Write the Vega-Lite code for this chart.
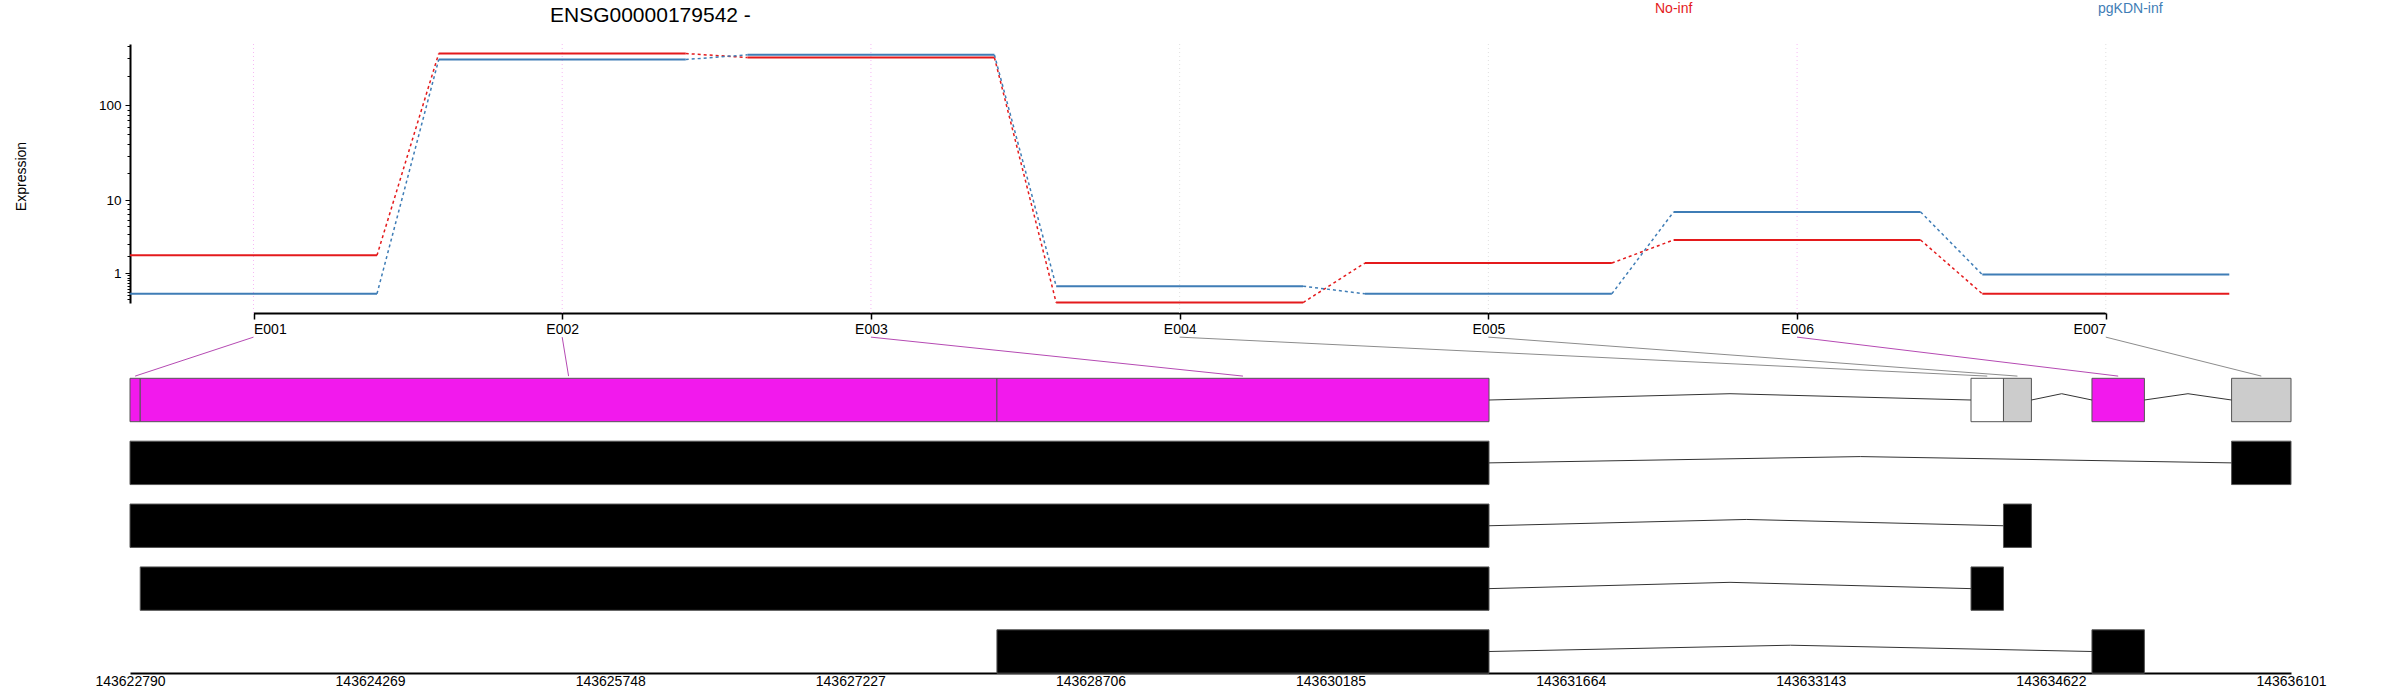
{
  "$schema": "https://vega.github.io/schema/vega-lite/v6.json",
  "width": 2161,
  "height": 629,
  "autosize": {"type": "none"},
  "padding": {"left": 130, "top": 44, "right": 109, "bottom": 27},
  "background": "white",
  "config": {
    "view": {"stroke": null},
    "font": "Liberation Sans",
    "axis": {"labelFont": "Liberation Sans", "titleFont": "Liberation Sans", "labelColor": "black", "titleColor": "black", "domainColor": "black", "tickColor": "black", "grid": false}
  },
  "title": {"text": "ENSG00000179542 -", "anchor": "start", "frame": "group", "dx": 420, "dy": 40, "offset": 16, "fontSize": 21, "fontWeight": "normal", "font": "Liberation Sans", "color": "black"},
  "datasets": {
    "expr": [
      {"exon": "E001", "idx": 1, "cond": "No-inf", "value": 2.04},
      {"exon": "E002", "idx": 2, "cond": "No-inf", "value": 336},
      {"exon": "E003", "idx": 3, "cond": "No-inf", "value": 306},
      {"exon": "E004", "idx": 4, "cond": "No-inf", "value": 0.01},
      {"exon": "E005", "idx": 5, "cond": "No-inf", "value": 1.54},
      {"exon": "E006", "idx": 6, "cond": "No-inf", "value": 3.35},
      {"exon": "E007", "idx": 7, "cond": "No-inf", "value": 0.24},
      {"exon": "E001", "idx": 1, "cond": "pgKDN-inf", "value": 0.24},
      {"exon": "E002", "idx": 2, "cond": "pgKDN-inf", "value": 292},
      {"exon": "E003", "idx": 3, "cond": "pgKDN-inf", "value": 326},
      {"exon": "E004", "idx": 4, "cond": "pgKDN-inf", "value": 0.48},
      {"exon": "E005", "idx": 5, "cond": "pgKDN-inf", "value": 0.24},
      {"exon": "E006", "idx": 6, "cond": "pgKDN-inf", "value": 7.37},
      {"exon": "E007", "idx": 7, "cond": "pgKDN-inf", "value": 0.94}
    ],
    "bins": [
      {"exon": "E001", "idx": 1, "start": 143622790, "end": 143622853, "status": "sig"},
      {"exon": "E002", "idx": 2, "start": 143622853, "end": 143628130, "status": "sig"},
      {"exon": "E003", "idx": 3, "start": 143628130, "end": 143631161, "status": "sig"},
      {"exon": "E004", "idx": 4, "start": 143634130, "end": 143634330, "status": "na"},
      {"exon": "E005", "idx": 5, "start": 143634330, "end": 143634502, "status": "ns"},
      {"exon": "E006", "idx": 6, "start": 143634875, "end": 143635198, "status": "sig"},
      {"exon": "E007", "idx": 7, "start": 143635735, "end": 143636101, "status": "ns"}
    ],
    "tx": [
      {"row": 2, "start": 143622790, "end": 143631161},
      {"row": 2, "start": 143635735, "end": 143636101},
      {"row": 3, "start": 143622790, "end": 143631161},
      {"row": 3, "start": 143634330, "end": 143634502},
      {"row": 4, "start": 143622853, "end": 143631161},
      {"row": 4, "start": 143634130, "end": 143634330},
      {"row": 5, "start": 143628130, "end": 143631161},
      {"row": 5, "start": 143634875, "end": 143635198}
    ],
    "introns": [
      {"id": "b1", "pt": 0, "g": 143631161, "y": 1},
      {"id": "b1", "pt": 1, "g": 143632645.5, "y": 0.9},
      {"id": "b1", "pt": 2, "g": 143634130, "y": 1},
      {"id": "b2", "pt": 0, "g": 143634502, "y": 1},
      {"id": "b2", "pt": 1, "g": 143634688.5, "y": 0.9},
      {"id": "b2", "pt": 2, "g": 143634875, "y": 1},
      {"id": "b3", "pt": 0, "g": 143635198, "y": 1},
      {"id": "b3", "pt": 1, "g": 143635466.5, "y": 0.9},
      {"id": "b3", "pt": 2, "g": 143635735, "y": 1},
      {"id": "t1", "pt": 0, "g": 143631161, "y": 2},
      {"id": "t1", "pt": 1, "g": 143633448, "y": 1.9},
      {"id": "t1", "pt": 2, "g": 143635735, "y": 2},
      {"id": "t2", "pt": 0, "g": 143631161, "y": 3},
      {"id": "t2", "pt": 1, "g": 143632745.5, "y": 2.9},
      {"id": "t2", "pt": 2, "g": 143634330, "y": 3},
      {"id": "t3", "pt": 0, "g": 143631161, "y": 4},
      {"id": "t3", "pt": 1, "g": 143632645.5, "y": 3.9},
      {"id": "t3", "pt": 2, "g": 143634130, "y": 4},
      {"id": "t4", "pt": 0, "g": 143631161, "y": 5},
      {"id": "t4", "pt": 1, "g": 143633018, "y": 4.9},
      {"id": "t4", "pt": 2, "g": 143634875, "y": 5}
    ]
  },
  "layer": [
    {
      "layer": [
        {
          "data": {"name": "bins"},
          "mark": {"type": "rule", "strokeDash": [1, 3], "strokeWidth": 1},
          "encoding": {
            "x": {"field": "idx", "type": "quantitative", "title": null, "axis": null},
            "y": {"datum": 420, "type": "quantitative", "title": null,
                  "axis": {"orient": "left", "values": [0.1, 0.2, 0.3, 0.4, 0.5, 0.6, 0.7, 0.8, 0.9, 2, 3, 4, 5, 6, 7, 8, 9, 20, 30, 40, 50, 60, 70, 80, 90, 200, 300, 400], "tickSize": 3, "labels": false, "domain": false, "title": null, "grid": false}},
            "y2": {"datum": -0.27},
            "stroke": {"condition": {"test": "datum.status === 'sig'", "value": "#F6B9F4"}, "value": "#E0E0E0"}
          }
        },
        {
          "data": {"name": "expr"},
          "transform": [
            {"calculate": "datum.idx - 0.4", "as": "x0"},
            {"calculate": "datum.idx + 0.4", "as": "x1"}
          ],
          "mark": {"type": "rule", "strokeWidth": 2},
          "encoding": {
            "x": {"field": "x0", "type": "quantitative", "title": null,
                  "scale": {"domain": [1, 7], "range": [123.5, 1975.8], "nice": false, "zero": false},
                  "axis": {"orient": "bottom", "offset": -360, "values": [1, 2, 3, 4, 5, 6, 7], "labelExpr": "'E00' + datum.value", "tickSize": 6, "tickWidth": 1.5, "labelPadding": 3, "labelFontSize": 14, "domainWidth": 2, "title": null, "grid": false}},
            "x2": {"field": "x1"},
            "y": {"field": "value", "type": "quantitative", "title": null,
                  "scale": {"type": "symlog", "constant": 1, "domain": [0, 420], "range": [259, 0], "nice": false, "zero": false},
                  "axis": {"orient": "left", "values": [1, 10, 100], "tickSize": 5, "labelPadding": 4, "labelFontSize": 13.5, "domainWidth": 2, "title": "Expression", "titleX": -109, "titleY": 132, "titleAngle": -90, "titleAlign": "center", "titleBaseline": "middle", "titleFontSize": 14, "titleFontWeight": "normal", "grid": false}},
            "color": {"field": "cond", "type": "nominal",
                      "scale": {"domain": ["No-inf", "pgKDN-inf"], "range": ["#E41A1C", "#3F7DB6"]},
                      "legend": {"orient": "none", "legendX": 1511, "legendY": -42, "direction": "horizontal", "title": null, "symbolSize": 0, "symbolStrokeWidth": 0, "symbolOpacity": 0, "labelOffset": 0, "labelFontSize": 14, "labelFont": "Liberation Sans", "columnPadding": 391, "padding": 0,
                                 "encode": {"labels": {"update": {"fill": {"signal": "datum.value === 'No-inf' ? '#E41A1C' : '#3F7DB6'"}}}}}}
          }
        },
        {
          "data": {"name": "expr"},
          "transform": [
            {"window": [{"op": "lead", "field": "value", "as": "next"}], "groupby": ["cond"], "sort": [{"field": "idx"}]},
            {"filter": "datum.next != null"},
            {"calculate": "datum.idx + 0.4", "as": "xa"},
            {"calculate": "datum.idx + 0.6", "as": "xb"}
          ],
          "mark": {"type": "rule", "strokeWidth": 1.5, "strokeDash": [3, 3]},
          "encoding": {
            "x": {"field": "xa", "type": "quantitative", "title": null, "axis": null},
            "x2": {"field": "xb"},
            "y": {"field": "value", "type": "quantitative", "title": null, "axis": null},
            "y2": {"field": "next"},
            "color": {"field": "cond", "type": "nominal"}
          }
        }
      ],
      "resolve": {"axis": {"x": "independent", "y": "independent"}}
    },
    {
      "layer": [
        {
          "data": {"name": "bins"},
          "transform": [
            {"calculate": "143622790 + (datum.idx - 0.6) * 13311 / 7", "as": "glab"},
            {"calculate": "(datum.start + datum.end) / 2", "as": "gmid"}
          ],
          "mark": {"type": "rule", "strokeWidth": 1},
          "encoding": {
            "x": {"field": "glab", "type": "quantitative", "title": null,
                  "scale": {"domain": [143622790, 143636101], "nice": false, "zero": false},
                  "axis": {"orient": "bottom", "values": [143622790, 143624269, 143625748, 143627227, 143628706, 143630185, 143631664, 143633143, 143634622, 143636101], "format": "d", "tickSize": 0, "labelPadding": 1, "labelFontSize": 14, "domainWidth": 2, "title": null, "grid": false, "labelOverlap": false, "labelFlush": false}},
            "x2": {"field": "gmid"},
            "y": {"datum": 0, "type": "quantitative", "title": null,
                  "scale": {"domain": [1, 5], "range": [356, 607.5], "nice": false, "zero": false},
                  "axis": null},
            "y2": {"datum": 0.62},
            "stroke": {"condition": {"test": "datum.status === 'sig'", "value": "#B54AB3"}, "value": "#8C8C8C"}
          }
        },
        {
          "data": {"name": "bins"},
          "mark": {"type": "rect", "stroke": "#555555", "strokeWidth": 1},
          "encoding": {
            "x": {"field": "start", "type": "quantitative", "title": null},
            "x2": {"field": "end"},
            "y": {"datum": 0.655, "type": "quantitative", "title": null, "axis": null},
            "y2": {"datum": 1.345},
            "fill": {"condition": [{"test": "datum.status === 'sig'", "value": "#F219ED"}, {"test": "datum.status === 'ns'", "value": "#CCCCCC"}], "value": "#FFFFFF"}
          }
        },
        {
          "data": {"name": "tx"},
          "transform": [
            {"calculate": "datum.row - 0.345", "as": "ya"},
            {"calculate": "datum.row + 0.345", "as": "yb"}
          ],
          "mark": {"type": "rect", "fill": "black", "stroke": "#555555", "strokeWidth": 1},
          "encoding": {
            "x": {"field": "start", "type": "quantitative", "title": null},
            "x2": {"field": "end"},
            "y": {"field": "ya", "type": "quantitative", "title": null, "axis": null},
            "y2": {"field": "yb"}
          }
        },
        {
          "data": {"name": "introns"},
          "mark": {"type": "line", "color": "#333333", "strokeWidth": 1},
          "encoding": {
            "x": {"field": "g", "type": "quantitative", "title": null},
            "y": {"field": "y", "type": "quantitative", "title": null, "axis": null},
            "detail": {"field": "id"},
            "order": {"field": "pt"}
          }
        }
      ]
    }
  ],
  "resolve": {"scale": {"x": "independent", "y": "independent"}, "axis": {"x": "independent", "y": "independent"}}
}
